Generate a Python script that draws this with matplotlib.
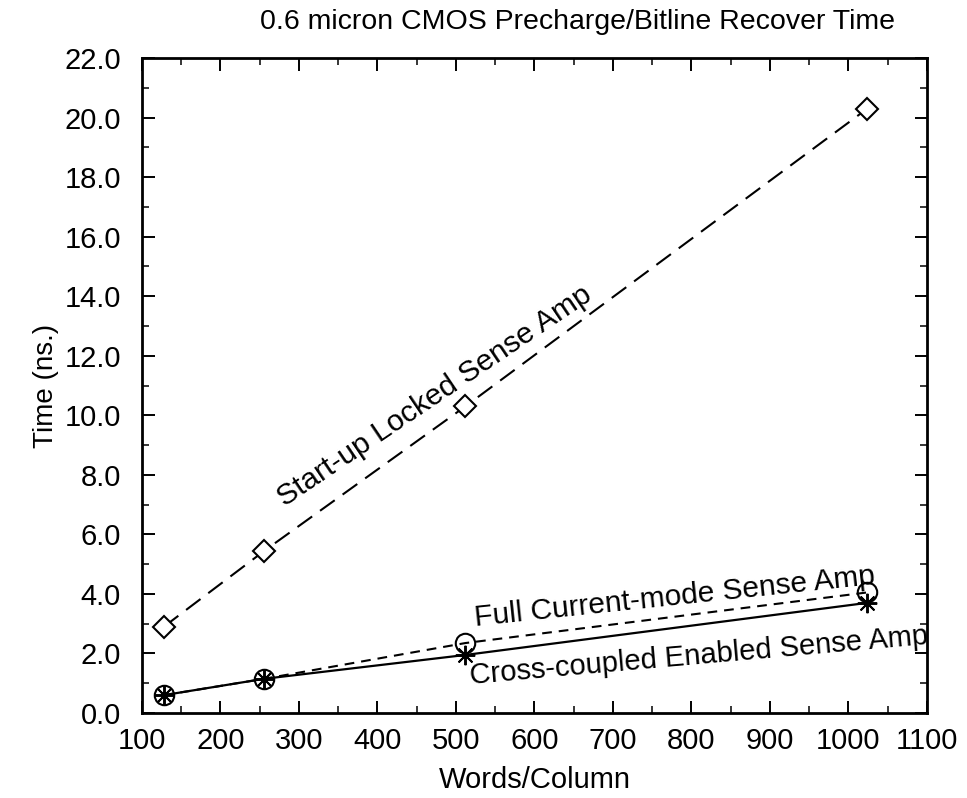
import matplotlib
matplotlib.use("Agg")
import matplotlib.pyplot as plt
from matplotlib.ticker import MultipleLocator, FormatStrFormatter

plt.rcParams['font.family'] = ['Liberation Sans', 'DejaVu Sans']
plt.rcParams['lines.scale_dashes'] = False

words = [128, 256, 512, 1024]
startup_locked = [2.9, 5.45, 10.3, 20.3]
full_current = [0.6, 1.15, 2.35, 4.05]
cross_coupled = [0.6, 1.15, 1.95, 3.7]

fig = plt.figure(figsize=(9.67, 7.98), dpi=100)
ax = fig.add_axes([0.1468, 0.1065, 0.8118, 0.8208])

ax.plot(words, startup_locked, color='black', lw=1.5, dashes=(13, 7),
        marker='D', ms=11, mfc='white', mec='black', mew=1.5)
ax.plot(words, full_current, color='black', lw=1.5, dashes=(7, 5),
        marker='o', ms=14, mfc='none', mec='black', mew=1.5)
ax.plot(words, cross_coupled, color='black', lw=1.6, ls='-',
        marker=(8, 2, 0), ms=14, mec='black', mew=1.4)

ax.set_xlim(100, 1100)
ax.set_ylim(0, 22)
ax.xaxis.set_major_locator(MultipleLocator(100))
ax.xaxis.set_minor_locator(MultipleLocator(50))
ax.yaxis.set_major_locator(MultipleLocator(2))
ax.yaxis.set_minor_locator(MultipleLocator(1))
ax.yaxis.set_major_formatter(FormatStrFormatter('%.1f'))

ax.tick_params(which='both', direction='in', top=True, right=True, labelsize=21)
ax.tick_params(which='major', length=9, width=1.4)
ax.tick_params(which='minor', length=5, width=1.1)
ax.tick_params(axis='x', pad=10)
ax.tick_params(axis='y', pad=15)
for s in ax.spines.values():
    s.set_linewidth(2)

fig.text(0.597, 0.972, '0.6 micron CMOS Precharge/Bitline Recover Time',
         ha='center', va='center', fontsize=20.5)
ax.set_xlabel('Words/Column', fontsize=21, labelpad=8)
ax.set_ylabel('Time (ns.)', fontsize=20, labelpad=4)

ax.text(473, 10.65, 'Start-up Locked Sense Amp', rotation=34, rotation_mode='anchor',
        ha='center', va='center', fontsize=21.5)
ax.text(779, 3.9, 'Full Current-mode Sense Amp', rotation=6, rotation_mode='anchor',
        ha='center', va='center', fontsize=21.5)
ax.text(810, 1.9, 'Cross-coupled Enabled Sense Amp', rotation=5, rotation_mode='anchor',
        ha='center', va='center', fontsize=21)

fig.savefig('out.png', dpi=100)
